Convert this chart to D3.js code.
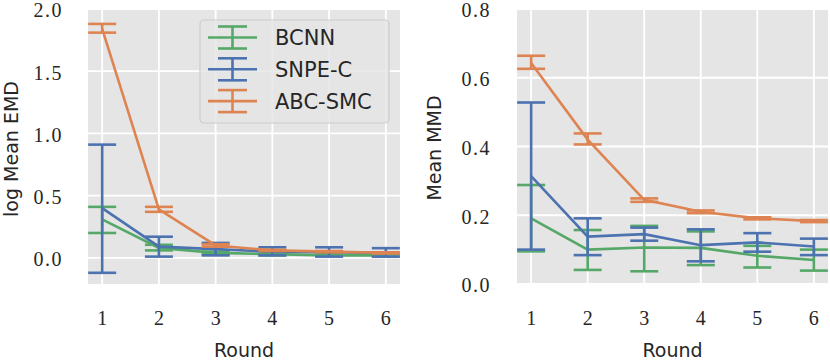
<!DOCTYPE html>
<html lang="en">
<head>
  <meta charset="UTF-8">
  <title>Rounds</title>
  <script src="https://cdn.jsdelivr.net/npm/d3@7/dist/d3.min.js"></script>
  <style>
    body { margin: 0; background: #fff; }
    .tick-label { font-family: "Liberation Serif", serif; font-size: 20px; fill: #262626; }
    .axis-label { font-family: "DejaVu Sans", sans-serif; font-size: 19px; fill: #262626; }
    .legend-label { font-family: "DejaVu Sans", sans-serif; font-size: 21px; fill: #262626; }
  </style>
</head>
<body>
  <div id="wrapper"></div>
  <script>
    const rounds = [1, 2, 3, 4, 5, 6]
    const methods = ["BCNN", "SNPE-C", "ABC-SMC"]
    const colors = ["#55a868", "#4c72b0", "#dd8452"]

    // log mean EMD (left panel): mean, lower, upper
    const emdBcnn = [0.31, 0.08, 0.04, 0.03, 0.02, 0.02]
    const emdBcnnLo = [0.20, 0.06, 0.03, 0.02, 0.015, 0.01]
    const emdBcnnHi = [0.41, 0.105, 0.05, 0.04, 0.03, 0.03]
    const emdSnpe = [0.40, 0.09, 0.07, 0.05, 0.045, 0.04]
    const emdSnpeLo = [-0.12, 0.01, 0.02, 0.02, 0.01, 0.01]
    const emdSnpeHi = [0.91, 0.17, 0.12, 0.085, 0.085, 0.078]
    const emdAbc = [1.84, 0.39, 0.10, 0.06, 0.05, 0.04]
    const emdAbcLo = [1.81, 0.37, 0.09, 0.055, 0.045, 0.035]
    const emdAbcHi = [1.88, 0.41, 0.11, 0.065, 0.055, 0.045]

    // mean MMD (right panel)
    const mmdBcnn = [0.191, 0.100, 0.106, 0.105, 0.082, 0.070]
    const mmdBcnnLo = [0.095, 0.041, 0.037, 0.055, 0.048, 0.039]
    const mmdBcnnHi = [0.288, 0.157, 0.169, 0.153, 0.111, 0.100]
    const mmdSnpe = [0.314, 0.138, 0.145, 0.113, 0.121, 0.109]
    const mmdSnpeLo = [0.100, 0.084, 0.126, 0.066, 0.094, 0.084]
    const mmdSnpeHi = [0.528, 0.191, 0.164, 0.159, 0.148, 0.132]
    const mmdAbc = [0.643, 0.420, 0.245, 0.210, 0.191, 0.183]
    const mmdAbcLo = [0.626, 0.406, 0.239, 0.206, 0.188, 0.180]
    const mmdAbcHi = [0.664, 0.438, 0.249, 0.214, 0.194, 0.186]

    const emdTicks = [0, 0.5, 1, 1.5, 2]
    const mmdTicks = [0, 0.2, 0.4, 0.6, 0.8]

    const svg = d3.select("#wrapper").append("svg")
      .attr("width", 830)
      .attr("height", 364)

    const panels = [
      {
        left: 88, right: 400, top: 9, bottom: 284,
        yDomain: [-0.21, 2.0], ticks: emdTicks, fmt: d3.format(".1f"),
        ylabel: "log Mean EMD", ylabelX: 11, ylabelY: 149, tickX: 63,
        series: [[emdBcnn, emdBcnnLo, emdBcnnHi], [emdSnpe, emdSnpeLo, emdSnpeHi], [emdAbc, emdAbcLo, emdAbcHi]]
      },
      {
        left: 517, right: 828, top: 9, bottom: 284,
        yDomain: [0, 0.8], ticks: mmdTicks, fmt: d3.format(".1f"),
        ylabel: "Mean MMD", ylabelX: 434, ylabelY: 148, tickX: 491,
        series: [[mmdBcnn, mmdBcnnLo, mmdBcnnHi], [mmdSnpe, mmdSnpeLo, mmdSnpeHi], [mmdAbc, mmdAbcLo, mmdAbcHi]]
      }
    ]

    panels.forEach((p, pi) => {
      const x = d3.scaleLinear().domain([0.75, 6.25]).range([p.left, p.right])
      const y = d3.scaleLinear().domain(p.yDomain).range([p.bottom, p.top])
      const g = svg.append("g")

      g.append("rect")
        .attr("x", p.left).attr("y", p.top)
        .attr("width", p.right - p.left).attr("height", p.bottom - p.top)
        .attr("fill", "#e5e5e5")

      // grid
      g.selectAll(".gy").data(p.ticks).join("line")
        .attr("x1", p.left).attr("x2", p.right)
        .attr("y1", d => y(d)).attr("y2", d => y(d))
        .attr("stroke", "#fff").attr("stroke-width", 1.8)
      g.selectAll(".gx").data(rounds).join("line")
        .attr("x1", d => x(d)).attr("x2", d => x(d))
        .attr("y1", p.top).attr("y2", p.bottom)
        .attr("stroke", "#fff").attr("stroke-width", 1.8)

      // tick labels
      g.selectAll(".ty").data(p.ticks).join("text")
        .attr("class", "tick-label")
        .attr("x", p.tickX).attr("y", d => y(d) + 1.5)
        .attr("dy", "0.34em")
        .attr("text-anchor", "end")
        .style("letter-spacing", "1.5px")
        .text(d => p.fmt(d))
      g.selectAll(".tx").data(rounds).join("text")
        .attr("class", "tick-label")
        .attr("x", d => x(d)).attr("y", 325)
        .attr("text-anchor", "middle")
        .text(d => d)

      g.append("text").attr("class", "axis-label")
        .attr("x", (p.left + p.right) / 2).attr("y", 357)
        .attr("text-anchor", "middle")
        .text("Round")
      g.append("text").attr("class", "axis-label")
        .attr("transform", `translate(${p.ylabelX + 7},${p.ylabelY}) rotate(-90)`)
        .attr("text-anchor", "middle")
        .text(p.ylabel)

      const clip = "clip" + pi
      svg.append("clipPath").attr("id", clip).append("rect")
        .attr("x", p.left).attr("y", p.top)
        .attr("width", p.right - p.left).attr("height", p.bottom - p.top)
      const marks = g.append("g").attr("clip-path", `url(#${clip})`)

      p.series.forEach(([mean, lo, hi], si) => {
        const c = colors[si]
        const pts = rounds.map((r, i) => ({ r, m: mean[i], lo: lo[i], hi: hi[i] }))
        const s = marks.append("g")
        s.append("path")
          .attr("d", d3.line().x(d => x(d.r)).y(d => y(d.m))(pts))
          .attr("fill", "none").attr("stroke", c).attr("stroke-width", 2.6)
        s.selectAll(".eb").data(pts).join("line")
          .attr("x1", d => x(d.r)).attr("x2", d => x(d.r))
          .attr("y1", d => y(d.lo)).attr("y2", d => y(d.hi))
          .attr("stroke", c).attr("stroke-width", 2.6)
        s.selectAll(".cl").data(pts).join("line")
          .attr("x1", d => x(d.r) - 14).attr("x2", d => x(d.r) + 14)
          .attr("y1", d => y(d.lo)).attr("y2", d => y(d.lo))
          .attr("stroke", c).attr("stroke-width", 2.6)
        s.selectAll(".ch").data(pts).join("line")
          .attr("x1", d => x(d.r) - 14).attr("x2", d => x(d.r) + 14)
          .attr("y1", d => y(d.hi)).attr("y2", d => y(d.hi))
          .attr("stroke", c).attr("stroke-width", 2.6)
      })
    })

    // legend
    const legend = svg.append("g")
    legend.append("rect")
      .attr("x", 200).attr("y", 20).attr("width", 189).attr("height", 103)
      .attr("rx", 4)
      .attr("fill", "#e5e5e5").attr("fill-opacity", 0.8)
      .attr("stroke", "#cccccc").attr("stroke-width", 1.2)
    methods.forEach((m, i) => {
      const cy = 37.5 + i * 31.8
      const row = legend.append("g").attr("stroke", colors[i]).attr("stroke-width", 2.6)
      row.append("line").attr("x1", 208).attr("x2", 257).attr("y1", cy).attr("y2", cy)
      row.append("line").attr("x1", 232.5).attr("x2", 232.5).attr("y1", cy - 11).attr("y2", cy + 11)
      row.append("line").attr("x1", 218).attr("x2", 247).attr("y1", cy - 11).attr("y2", cy - 11)
      row.append("line").attr("x1", 218).attr("x2", 247).attr("y1", cy + 11).attr("y2", cy + 11)
      legend.append("text").attr("class", "legend-label")
        .attr("x", 275).attr("y", cy).attr("dy", "0.36em")
        .text(m)
    })
  </script>
</body>
</html>
